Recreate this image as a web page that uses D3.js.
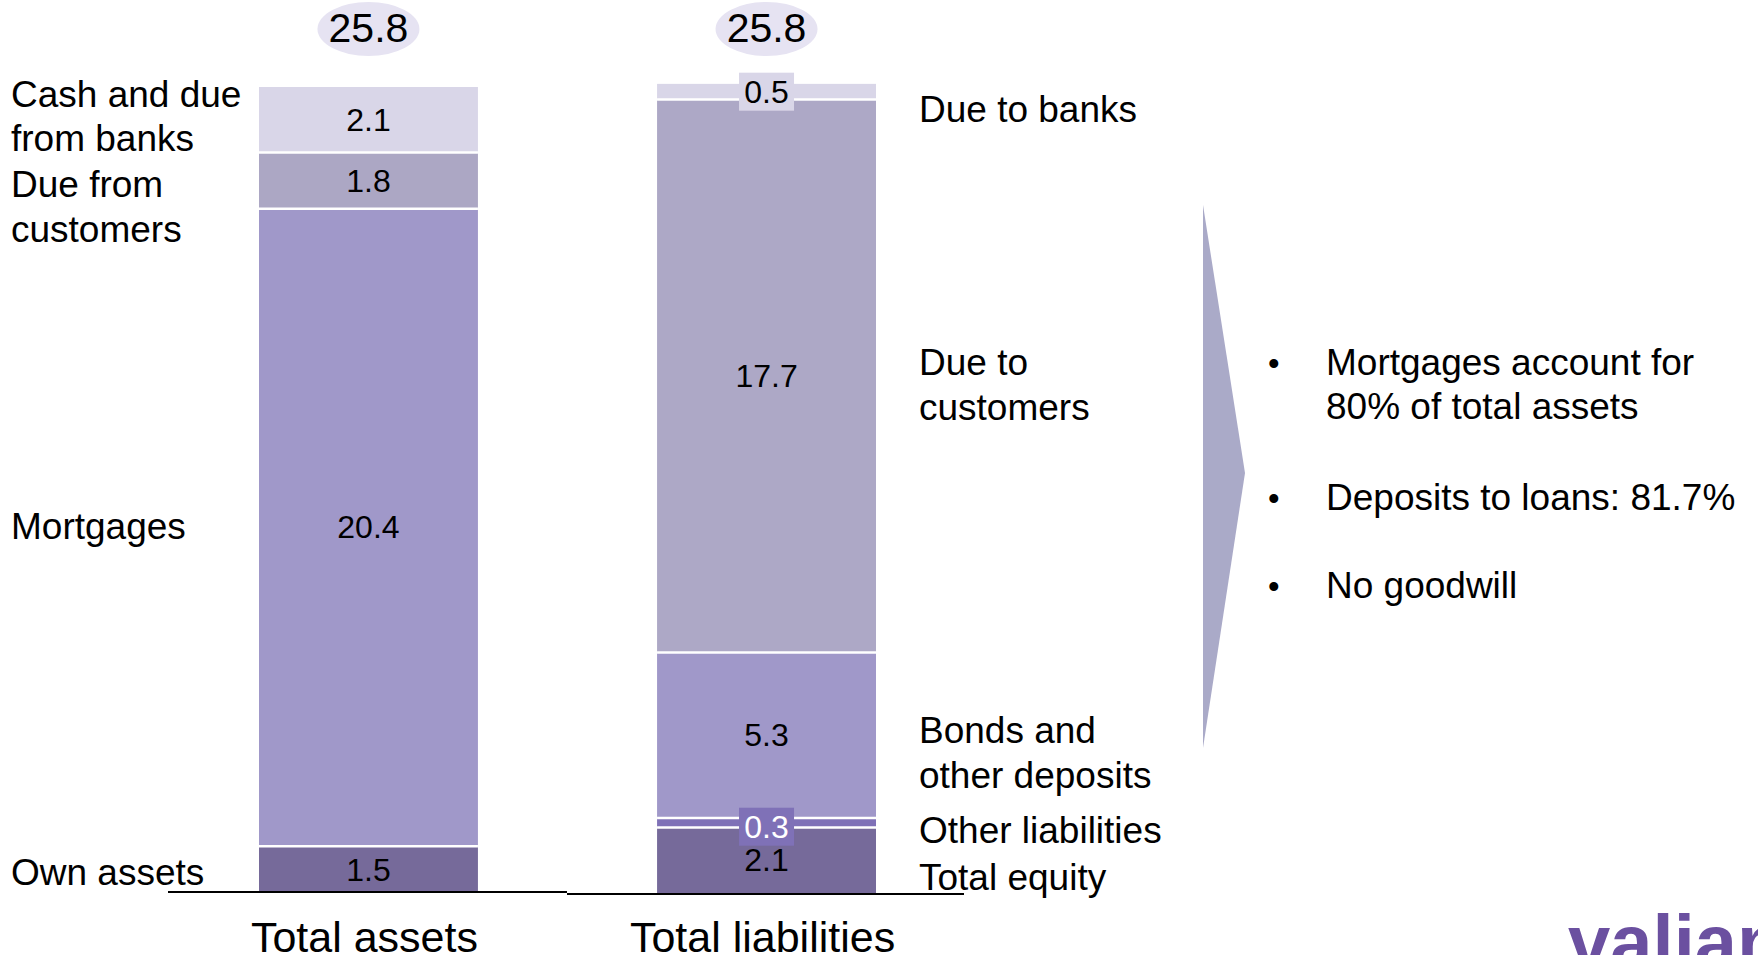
<!DOCTYPE html>
<html>
<head>
<meta charset="utf-8">
<script src="https://cdn.jsdelivr.net/npm/d3@7"></script>
<style>
  html, body { margin: 0; padding: 0; background: #ffffff; }
  svg { display: block; }
  text { font-family: "Liberation Sans", Arial, Helvetica, sans-serif; }
</style>
</head>
<body>
<svg id="chart" width="1758" height="955"></svg>
<script>
// ---------------- DATA ----------------
const categories = ["Total assets", "Total liabilities"];
const totals = [25.8, 25.8];

const assetItems = ["Own assets", "Mortgages", "Due from\ncustomers", "Cash and due\nfrom banks"];
const assetValues = [1.5, 20.4, 1.8, 2.1];

const liabilityItems = ["Total equity", "Other liabilities", "Bonds and\nother deposits", "Due to\ncustomers", "Due to banks"];
const liabilityValues = [2.1, 0.3, 5.3, 17.7, 0.5];

const bulletTexts = ["Mortgages account for\n80% of total assets", "Deposits to loans: 81.7%", "No goodwill"];
const logoText = "valiant";

// ---------------- STYLE / LAYOUT ----------------
const assetColors = ["#766a9a", "#a098c9", "#aca7c4", "#d9d6e8"];
const liabilityColors = ["#766a9a", "#7f71b7", "#a098c9", "#ada8c6", "#d9d6e8"];
const assetLabelBaselines = [885, 539, 197, 107];
const liabilityLabelBaselines = [890, 843, 743, 375, 122];
const labelLineHeight = 45;

const svg = d3.select("#chart");
const x = d3.scaleBand().domain(categories).range([259, 876]).paddingInner(0.45).paddingOuter(0);
const y = d3.scaleLinear().domain([0, 25.8]).range([893, 87]);

function stackOf(values, colors, names) {
  let c = 0;
  return values.map((v, i) => { const s = { y0: c, y1: c + v, v, color: colors[i], name: names[i] }; c += v; return s; });
}
const stacks = [
  stackOf(assetValues, assetColors, assetItems),
  stackOf(liabilityValues, liabilityColors, liabilityItems)
];

// Bars
stacks.forEach((stack, ci) => {
  const g = svg.append("g");
  const bx = x(categories[ci]), bw = x.bandwidth();
  g.selectAll("rect.seg").data(stack).join("rect")
    .attr("class", "seg")
    .attr("x", bx).attr("width", bw)
    .attr("y", d => y(d.y1)).attr("height", d => y(d.y0) - y(d.y1))
    .attr("fill", d => d.color);
  // white separators
  g.selectAll("line.sep").data(stack.slice(1)).join("line")
    .attr("x1", bx).attr("x2", bx + bw)
    .attr("y1", d => y(d.y0)).attr("y2", d => y(d.y0))
    .attr("stroke", "#ffffff").attr("stroke-width", 2.5);
  // value labels
  stack.forEach(d => {
    const cx = bx + bw / 2, cy = (y(d.y0) + y(d.y1)) / 2;
    const small = d.v < 1;
    const dark = d.color === "#7f71b7";
    const cyy = small && dark ? cy + 4 : cy;
    if (small) {
      g.append("rect").attr("x", cx - 27.5).attr("y", cyy - 19).attr("width", 55).attr("height", 38)
        .attr("fill", d.color);
    }
    g.append("text").attr("x", cx).attr("y", cyy + 11)
      .attr("text-anchor", "middle").attr("font-size", 32)
      .attr("fill", (small && dark) ? "#ffffff" : "#000000")
      .text(d3.format(".1f")(d.v));
  });
  // total ellipse
  const cx = bx + bw / 2;
  svg.append("ellipse").attr("cx", cx).attr("cy", 29).attr("rx", 51).attr("ry", 27).attr("fill", "#e6e3f2");
  svg.append("text").attr("x", cx).attr("y", 42).attr("text-anchor", "middle").attr("font-size", 41)
    .attr("fill", "#000").text(d3.format(".1f")(totals[ci]));
  // category label
  svg.append("text").attr("x", cx - 4).attr("y", 952).attr("text-anchor", "middle").attr("font-size", 43)
    .attr("fill", "#000").text(categories[ci]);
});

// Baselines
svg.append("line").attr("x1", 168).attr("x2", 567).attr("y1", 892).attr("y2", 892).attr("stroke", "#000").attr("stroke-width", 2);
svg.append("line").attr("x1", 567).attr("x2", 964).attr("y1", 894).attr("y2", 894).attr("stroke", "#000").attr("stroke-width", 2);

// Item labels
function multiline(xp, baseline, str, size, lh) {
  const t = svg.append("text").attr("x", xp).attr("y", baseline).attr("font-size", size).attr("fill", "#000");
  str.split("\n").forEach((line, i) => {
    t.append("tspan").attr("x", xp).attr("y", baseline + i * lh).text(line);
  });
}
assetItems.forEach((s, i) => multiline(11, assetLabelBaselines[i], s, 37, i === 3 ? 44 : labelLineHeight));
liabilityItems.forEach((s, i) => multiline(919, liabilityLabelBaselines[i], s, 37, labelLineHeight));

// Arrow
svg.append("polygon").attr("points", "1203,205 1245,473 1203,748").attr("fill", "#aaaac8");

// Bullets
const bulletBaselines = [375, 510, 598];
bulletTexts.forEach((s, i) => {
  svg.append("text").attr("x", 1268).attr("y", bulletBaselines[i]).attr("font-size", 33).attr("fill", "#000").text("\u2022");
  multiline(1326, bulletBaselines[i], s, 37, 44);
});

// Logo (cut off at bottom right)
svg.append("text").attr("x", 1568).attr("y", 968).attr("font-size", 76).attr("font-weight", "bold")
  .attr("fill", "#6b50a0").text(logoText);
</script>
</body>
</html>
